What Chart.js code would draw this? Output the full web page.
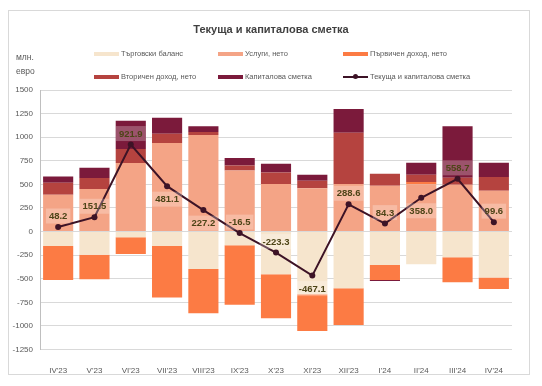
<!DOCTYPE html>
<html>
<head>
<meta charset="utf-8">
<script src="https://cdn.jsdelivr.net/npm/chart.js@4.4.1/dist/chart.umd.min.js"></script>
<style>
    body { margin: 0; background: #fff; font-family: "Liberation Sans", Arial, sans-serif; }
    #contenedor { position: relative; width: 542px; height: 386px; overflow: hidden; }
    #marco { position: absolute; left: 8px; top: 10px; width: 520px; height: 363px; border: 1px solid #d9d9d9; }
    #grafico { position: absolute; left: 0; top: 0; }
    #titulo { position: absolute; top: 23px; left: 0; width: 542px; text-align: center; font-weight: bold; font-size: 11px; color: #404040; }
    #unidad { position: absolute; left: 16px; top: 50px; font-size: 8.5px; line-height: 14px; color: #595959; }
    .item { position: absolute; font-size: 7.5px; color: #595959; white-space: nowrap; line-height: 10px; }
    .muestra { position: absolute; left: 0; top: 3px; width: 25px; height: 4px; }
    .item span { position: absolute; left: 27px; top: 0; }
</style>
</head>
<body>
<div id="contenedor">
    <div id="marco"></div>
    <canvas id="grafico" width="542" height="386"></canvas>
    <div id="titulo">Текуща и капиталова сметка</div>
    <div id="unidad">млн.<br>евро</div>
    <div id="leyenda"></div>
</div>
<script>
// Datos (млн. евро)
const meses = ["IV'23", "V'23", "VI'23", "VII'23", "VIII'23", "IX'23", "X'23", "XI'23", "XII'23", "I'24", "II'24", "III'24", "IV'24"];
const balanzaComercial = [-152, -247, -60, -152, -396, -145, -453, -665, -601, -354, -346, -272, -488];
const servicios = [390, 450, 726, 938, 1023, 648, 503, 460, 503, 485, 500, 496, 432];
const ingresoPrimario = [-361, -259, -177, -548, -471, -630, -467, -389, -389, -159, 25, -265, -120];
const ingresoSecundario = [127, 117, 149, 99, 32, 53, 123, 78, 545, 127, 78, 75, 145];
const cuentaCapital = [67, 109, 300, 170, 60, 78, 93, 64, 251, -10, 127, 545, 152];
const cuentaTotal = [48.2, 151.5, 921.9, 481.1, 227.2, -16.5, -223.3, -467.1, 288.6, 84.3, 358.0, 558.7, 99.6];
const ticksY = [1500, 1250, 1000, 750, 500, 250, 0, -250, -500, -750, -1000, -1250];

// Dónde va cada etiqueta respecto al punto
const posEtiqueta = ['arriba', 'arriba', 'arriba', 'abajo', 'abajo', 'arriba', 'arriba', 'abajo', 'arriba', 'arriba', 'abajo', 'arriba', 'arriba'];

const series = [
    { nombre: 'Търговски баланс', datos: balanzaComercial, color: '#f6e5cd' },
    { nombre: 'Услуги, нето', datos: servicios, color: '#f4a486' },
    { nombre: 'Първичен доход, нето', datos: ingresoPrimario, color: '#fc7b44' },
    { nombre: 'Вторичен доход, нето', datos: ingresoSecundario, color: '#b5433f' },
    { nombre: 'Капиталова сметка', datos: cuentaCapital, color: '#7b1a3b' }
];
const colorLinea = '#3d1326';

// Etiquetas de la línea con su cajita semitransparente
const etiquetasPlugin = {
    id: 'etiquetas',
    afterDatasetsDraw(chart) {
        const meta = chart.getDatasetMeta(series.length);
        const ctx = chart.ctx;
        ctx.save();
        ctx.font = 'bold 9.5px "Liberation Sans", Arial, sans-serif';
        ctx.textAlign = 'center';
        ctx.textBaseline = 'middle';
        meta.data.forEach((punto, i) => {
            const txt = cuentaTotal[i].toFixed(1);
            const y = punto.y + (posEtiqueta[i] === 'arriba' ? -11 : 13);
            const w = ctx.measureText(txt).width + 6;
            ctx.fillStyle = 'rgba(255,255,255,0.25)';
            ctx.fillRect(punto.x - w / 2, y - 7.5, w, 15);
            ctx.fillStyle = '#4d4417';
            ctx.fillText(txt, punto.x, y + 0.5);
        });
        ctx.restore();
    }
};

const datasets = series.map(s => ({
    type: 'bar',
    label: s.nombre,
    data: s.datos,
    backgroundColor: s.color,
    stack: 'barras',
    order: 1,
    barPercentage: 0.83,
    categoryPercentage: 1
}));
datasets.push({
    type: 'line',
    label: 'Текуща и капиталова сметка',
    data: cuentaTotal,
    borderColor: colorLinea,
    backgroundColor: colorLinea,
    borderWidth: 2,
    pointRadius: 3,
    pointBackgroundColor: colorLinea,
    pointBorderWidth: 0,
    stack: 'linea',
    order: 0,
    tension: 0
});

const fuenteEjes = { family: '"Liberation Sans", Arial, sans-serif', size: 8 };

new Chart(document.getElementById('grafico'), {
    data: { labels: meses, datasets: datasets },
    options: {
        responsive: false,
        animation: false,
        layout: { padding: { top: 90, bottom: 8.5, left: 0, right: 30 } },
        plugins: {
            legend: { display: false },
            tooltip: { enabled: false }
        },
        scales: {
            x: {
                stacked: true,
                grid: { display: false },
                border: { display: false },
                ticks: { font: fuenteEjes, color: '#595959', padding: 8, maxRotation: 0, autoSkip: false },
                afterFit: (scale) => { scale.height = 28; }
            },
            y: {
                stacked: true,
                min: -1250,
                max: 1500,
                afterBuildTicks: (scale) => { scale.ticks = ticksY.map(v => ({ value: v })); },
                grid: { color: '#d9d9d9', lineWidth: 1, drawTicks: false },
                border: { display: true, color: '#bfbfbf' },
                ticks: { font: fuenteEjes, color: '#595959', padding: 7, callback: (v) => String(v) },
                afterFit: (scale) => { scale.width = 40; }
            }
        }
    },
    plugins: [etiquetasPlugin]
});

// Leyenda en tres columnas
const leyenda = document.getElementById('leyenda');
const columnas = [94, 218, 343];
const filas = [49, 72];
const itemsLeyenda = series.map(s => ({ nombre: s.nombre, color: s.color, linea: false }));
itemsLeyenda.push({ nombre: 'Текуща и капиталова сметка', color: colorLinea, linea: true });
itemsLeyenda.forEach((it, i) => {
    const div = document.createElement('div');
    div.className = 'item';
    div.style.left = columnas[i % 3] + 'px';
    div.style.top = filas[Math.floor(i / 3)] + 'px';
    const muestra = document.createElement('div');
    muestra.className = 'muestra';
    if (it.linea) {
        muestra.style.height = '2px';
        muestra.style.top = '4px';
        muestra.style.background = it.color;
        const punto = document.createElement('div');
        punto.style.cssText = 'position:absolute;left:10px;top:-2px;width:5px;height:5px;border-radius:50%;background:' + it.color;
        muestra.appendChild(punto);
    } else {
        muestra.style.background = it.color;
    }
    const txt = document.createElement('span');
    txt.textContent = it.nombre;
    div.appendChild(muestra);
    div.appendChild(txt);
    leyenda.appendChild(div);
});
</script>
</body>
</html>
